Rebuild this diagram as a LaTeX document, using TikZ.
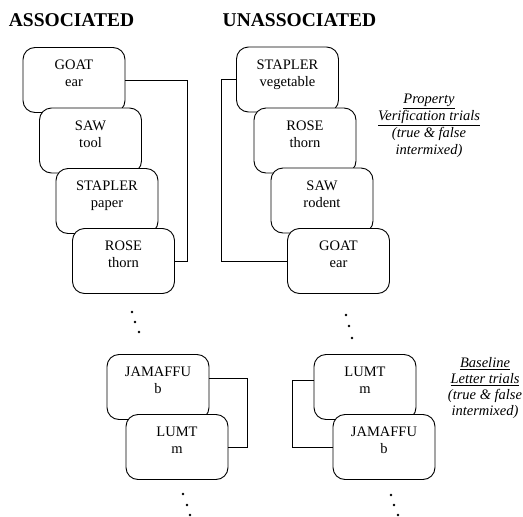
\documentclass[tikz,border=0pt]{standalone}
\usepackage{fontspec}
\setmainfont{Liberation Serif}
\begin{document}
\begin{tikzpicture}[x=1pt,y=-1pt,
  card/.style={draw, line width=0.9pt, rounded corners=12pt, fill=white,
    minimum width=102pt, minimum height=65pt, align=center,
    font=\fontsize{14.5}{17}\selectfont, text height=29pt, text depth=16pt},
  head/.style={font=\fontsize{19.5}{23}\selectfont\bfseries},
  note/.style={align=center, font=\fontsize{14.5}{17}\selectfont\itshape},
  link/.style={line width=0.8pt}]
\useasboundingbox (0,0) rectangle (523,517);
% headings
\node[head] (hasc) at (71.5,20) {ASSOCIATED};
\node[head] (hun) at (299.5,20) {UNASSOCIATED};
% associated pairs
\node[card] (a1) at (74,80) {GOAT\\ear};
\node[card] (a2) at (90.5,140.5) {SAW\\tool};
\node[card] (a3) at (107,201) {STAPLER\\paper};
\node[card] (a4) at (123.5,261) {ROSE\\thorn};
\draw[link] (a1.east) -- ++(62,0) |- (a4.east);
% unassociated pairs
\node[card] (u1) at (287.5,79.5) {STAPLER\\vegetable};
\node[card] (u2) at (305,140.5) {ROSE\\thorn};
\node[card] (u3) at (322,200.5) {SAW\\rodent};
\node[card] (u4) at (338.5,261) {GOAT\\ear};
\draw[link] (u1.west) -- ++(-14.5,0) |- (u4.west);
\node[note] (pv) at (429,126) {\underline{Property}\\\underline{Verification trials}\\(true \& false\\intermixed)};
% baseline letters
\node[card] (b1) at (158,387) {JAMAFFU\\b};
\node[card] (b2) at (177,447) {LUMT\\m};
\draw[link] ([yshift=9pt]b1.east) -- ++(38,0) |- (b2.east);
\node[card] (c1) at (365,387) {LUMT\\m};
\node[card] (c2) at (384,447) {JAMAFFU\\b};
\draw[link] ([yshift=7pt]c1.west) -- ++(-21,0) |- (c2.west);
\node[note, font=\fontsize{14.5}{16}\selectfont\itshape] (bl) at (485,388) {\underline{Baseline}\\\underline{Letter trials}\\(true \& false\\intermixed)};
% dots
\foreach \x/\y in {132/312,135/322,139/332,346/315,349/326,352/338,
  183/494,187/505,190/515,391/495,394/505,398/515}
  \fill (\x,\y) circle (1.3);
\end{tikzpicture}
\end{document}
